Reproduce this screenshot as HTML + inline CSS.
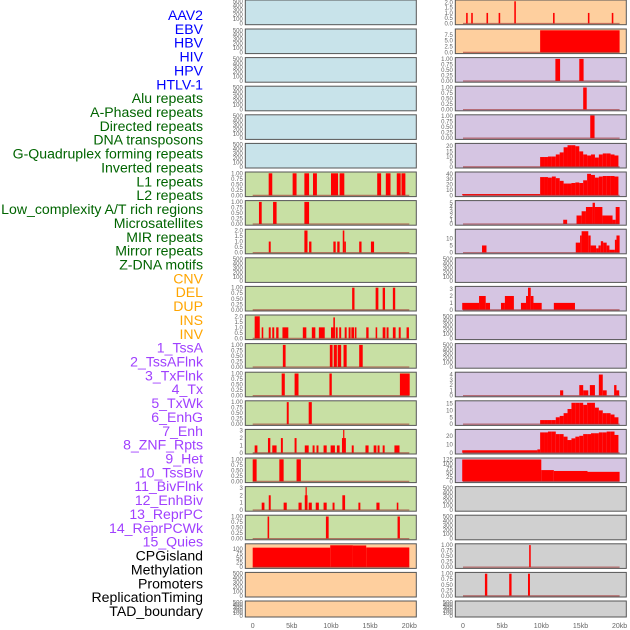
<!DOCTYPE html>
<html><head><meta charset="utf-8"><style>
html,body{margin:0;padding:0;background:#fff;}
svg{display:block;font-family:"Liberation Sans",sans-serif;}
</style></head><body>
<svg id="chart" width="630" height="630" viewBox="0 0 630 630"></svg>
<script>
const labels = ["AAV2","EBV","HBV","HIV","HPV","HTLV-1","Alu repeats","A-Phased repeats","Directed repeats","DNA transposons","G-Quadruplex forming repeats","Inverted repeats","L1 repeats","L2 repeats","Low_complexity A/T rich regions","Microsatellites","MIR repeats","Mirror repeats","Z-DNA motifs","CNV","DEL","DUP","INS","INV","1_TssA","2_TssAFlnk","3_TxFlnk","4_Tx","5_TxWk","6_EnhG","7_Enh","8_ZNF_Rpts","9_Het","10_TssBiv","11_BivFlnk","12_EnhBiv","13_ReprPC","14_ReprPCWk","15_Quies","CPGisland","Methylation","Promoters","ReplicationTiming","TAD_boundary"];
const labelColors = ["#0000ff","#0000ff","#0000ff","#0000ff","#0000ff","#0000ff","#006400","#006400","#006400","#006400","#006400","#006400","#006400","#006400","#006400","#006400","#006400","#006400","#006400","#ffa500","#ffa500","#ffa500","#ffa500","#ffa500","#a040ff","#a040ff","#a040ff","#a040ff","#a040ff","#a040ff","#a040ff","#a040ff","#a040ff","#a040ff","#a040ff","#a040ff","#a040ff","#a040ff","#a040ff","#000","#000","#000","#000","#000"];
const xTicks = [0,5,10,15,20];
const xTickLabels = ["0","5kb","10kb","15kb","20kb"];
const T500=[0,100,200,300,400,500], T1=[0,0.25,0.5,0.75,1], T2=[0,0.5,1,1.5,2], T3=[0,1,2,3];
const leftTicks = [T500,T500,T500,T500,T500,T500,T1,T1,T2,T500,T1,T2,T1,T1,T1,T3,T1,T3,T1,[0,25,50,75,100],T500,T500];
const leftMax = [500,500,500,500,500,500,1,1,2,500,1,2,1,1,1,3,1,3,1,121,500,500];
const leftBg = ["#c8e3ea","#c8e3ea","#c8e3ea","#c8e3ea","#c8e3ea","#c8e3ea","#c8e0a4","#c8e0a4","#c8e0a4","#c8e0a4","#c8e0a4","#c8e0a4","#c8e0a4","#c8e0a4","#c8e0a4","#c8e0a4","#c8e0a4","#c8e0a4","#c8e0a4","#fecf9e","#fecf9e","#fecf9e"];
const leftSegs = [[],[],[],[],[],[],
 [[2.04,2.5,1],[5.1,5.6,1],[6.6,7.2,1],[7.7,8.2,1],[10,10.9,1],[11.1,11.7,1],[15.9,16.4,1],[17,17.6,1],[18.4,18.9,1],[19,19.5,1]],
 [[0.8,1.15,1],[2.6,3.05,1],[6.6,7.2,1]],
 [[2.05,2.3,1],[6.6,7.0,2],[7.2,7.5,1],[10.3,10.6,1],[10.8,11.1,1],[11.5,11.7,2],[11.7,11.9,1],[13.6,13.9,1],[15.1,15.5,1]],
 [],
 [[12.7,13.0,1],[15.7,16.05,1],[16.6,16.9,1],[17.9,18.2,1]],
 [[0.25,0.9,2],[1.15,1.35,1],[2.05,2.3,1],[2.5,2.75,1],[3.0,3.3,1],[3.8,4.55,1],[6.4,6.85,1],[7.55,8.0,1],[8.45,9.2,1],[10.0,10.5,1],[10.3,10.5,1.9],[10.6,10.85,1],[11.05,11.3,1],[11.75,12.0,1],[12.25,12.5,1],[12.6,12.95,1],[13.05,13.25,1],[14.5,14.8,1],[15.7,15.9,1],[16.6,16.95,1],[17.1,17.35,1],[17.9,18.25,1],[18.65,18.9,1],[19.65,19.95,1]],
 [[3.85,4.2,1],[9.85,10.2,1],[10.35,10.75,1],[10.85,11.3,1],[11.6,12.0,1],[13.6,14.05,1]],
 [[3.7,4.1,1],[5.35,5.85,1],[9.8,10.1,1],[18.8,20.05,1]],
 [[4.35,4.6,1],[7.15,7.55,1]],
 [[0.25,0.6,1],[1.95,2.25,2],[2.5,3.05,1],[3.6,3.85,2],[5.35,5.6,2],[6.65,7.15,1],[7.65,7.9,1],[8.15,8.4,1],[9.05,9.45,1],[9.95,10.5,1],[10.75,11.1,1],[11.4,11.9,2],[11.55,11.7,3.1],[12.65,12.9,1],[14.4,14.8,1],[15.45,15.8,1],[15.95,16.2,1],[16.6,16.85,1],[18.1,18.75,1]],
 [[0,0.5,1],[3.4,3.95,1],[5.6,6.15,1]],
 [[1.15,1.5,1],[2.05,2.3,2],[3.95,4.35,1],[5.85,6.25,1],[6.65,7.0,2],[6.75,6.9,3.1],[7.15,7.55,1],[8.05,8.45,1],[9.05,9.45,1],[10.2,10.45,1],[11.45,11.8,2],[13.5,13.75,1],[15.8,16.2,1],[18.4,18.6,1]],
 [[1.9,2.1,1],[9.35,9.7,1],[18.5,18.8,1]],
 [[0,9.9,107],[9.9,12.8,120],[12.8,14.5,119],[14.5,20,108]],
 [],[]];
const rightTicks = [T2,[0,2.5,5,7.5],T1,T1,T1,[0,5,10,15,20],[0,10,20,30,40],[0,1,2,3,4,5],[0,5,10],T500,T3,T500,T500,[0,1,2,3,4],[0,5,10,15],[0,10,20],[0,25,50,75,100,125],T500,T500,T1,T1,T500];
const rightMax = [2.1,9.4,1,1,1,21.5,41,5.2,15.5,500,3.2,500,500,4.2,16,26,127,500,500,1,1,500];
const rightBg = ["#fecf9e","#fecf9e","#d5c5e2","#d5c5e2","#d5c5e2","#d5c5e2","#d5c5e2","#d5c5e2","#d5c5e2","#d5c5e2","#d5c5e2","#d5c5e2","#d5c5e2","#d5c5e2","#d5c5e2","#d5c5e2","#d5c5e2","#d0d0d0","#d0d0d0","#d0d0d0","#d0d0d0","#d0d0d0"];
const r6Vals = [9.5,9.5,10,10,12,14,19,21,21,20,15,12,11,12,9,12,13,13,12,11];
const r7Vals = [34,34,33,35,32,27,22,22,23,24,23,28,40,38,33,35,36,36,36,35];
const r15Vals = [3,3,3,3,5,6,8,11,15.5,15.5,15.5,14,15.5,15.5,12,10,8,8,7,5];
const r16Vals = [24,24,25,25,22,22,19,15,17,19,20,22,22,23,23,24,24,25,25,21];
const rightSegs = [
 [[0.4,0.6,1],[1.05,1.25,1],[3.0,3.2,1],[4.55,4.75,1],[6.55,6.75,2.1],[11.5,11.7,1],[15.95,16.15,1],[19.0,19.2,1]],
 [[9.85,20,9.4]],
 [[11.8,12.4,1],[14.85,15.4,1]],
 [[15.35,15.8,1]],
 [[16.25,16.8,1.03]],
 "r6",
 "r7",
 [[12.8,13.3,1],[14.5,15.15,2],[15.15,15.7,3],[15.7,16.55,4],[16.55,16.85,5],[16.85,17.8,4],[17.8,19.1,2],[19.1,19.5,1],[19.5,20,4]],
 [[2.43,3.0,5],[14.4,14.95,7],[14.95,15.15,12],[15.15,16.0,15],[16.0,16.3,12],[16.3,17.0,5],[17.0,17.3,3],[17.3,17.6,5],[17.6,17.9,8],[17.9,18.35,7],[18.35,18.7,5],[18.7,19.4,2],[19.4,19.6,9],[19.6,20,12]],
 [],
 [[-0.1,2.05,1],[2.05,2.9,2],[2.9,3.45,1],[4.85,5.35,1],[5.35,6.5,2],[7.4,8.05,1],[8.05,8.3,2],[8.3,8.65,3.2],[8.65,9.0,2],[9.0,10.05,1],[11.6,14.3,1]],
 [],[],
 [[12.4,12.8,1],[14.85,15.35,2],[15.35,16.0,1],[16.2,16.85,2],[17.35,17.85,4],[17.85,18.35,1],[19.3,19.6,2],[19.6,19.95,1]],
 "r15",
 "r16",
 [[-0.1,10.0,126],[10.0,11.6,65],[11.6,15.9,60],[15.9,20,55]],
 [],[],
 [[8.45,8.65,1]],
 [[2.8,3.1,1],[5.9,6.2,1],[8.3,8.55,1]],
 []];
const rowBaseLow = {6:[[-0.1,9.85,2.5]], 15:[[-0.1,9.5,3],[9.5,9.85,4]]};

const NS="http://www.w3.org/2000/svg";
const svg=document.getElementById('chart');
function mk(tag,attrs,parent){const e=document.createElementNS(NS,tag);for(const k in attrs)e.setAttribute(k,attrs[k]);(parent||svg).appendChild(e);return e;}

labels.forEach((t,i)=>{
  const e=mk('text',{x:203,y:(15+13.86*i+5).toFixed(1),'text-anchor':'end','font-size':'14.1',fill:labelColors[i]});
  e.textContent=t;
  
  
});

function rowTop(i){return i===0?0:28.6*i+0.4;}
function rowH(i){return i===0?24.7:(i===21?16:24.6);}

function expand(s){
  if(s==="r6") return r6Vals.map((v,k)=>[9.85+0.5*k,10.35+0.5*k,v]);
  if(s==="r7") return r7Vals.map((v,k)=>[9.85+0.5*k,10.35+0.5*k,v]);
  if(s==="r15") return r15Vals.map((v,k)=>[9.85+0.5*k,10.35+0.5*k,v]);
  if(s==="r16") return r16Vals.map((v,k)=>[9.85+0.5*k,10.35+0.5*k,v]);
  return s;
}

function drawPanel(side,i,bg,ticks,ymax,segs){
  const x0 = side==='left'?245.3:455.3, w=171;
  const zx = side==='left'?252.7:463;
  const kx = 7.83;
  const xs = kb=>zx+kb*kx;
  const top=rowTop(i), h=rowH(i), bottom=top+h;
  const y0=bottom-1.2, ys=v=>y0-v/ymax*(h-2.5);
  const g=mk('g',{});
  
  
  mk('rect',{x:x0,y:top,width:w,height:h,fill:bg},g);
  const all = (segs? expand(segs):[]).concat(side==='right'&&rowBaseLow[i]?rowBaseLow[i]:[]);
  all.forEach(s=>{
    const r=mk('rect',{x:xs(s[0]).toFixed(2),width:Math.max(1.2,xs(s[1])-xs(s[0])).toFixed(2),y:Math.max(top,ys(s[2])).toFixed(2),height:(y0-Math.max(top,ys(s[2]))).toFixed(2),fill:'#ff0000'},g);
    
    
  });
  if(!(ymax===500)){
    mk('line',{x1:xs(0),x2:xs(20),y1:y0,y2:y0,stroke:'#a03030','stroke-width':1.3,'stroke-opacity':0.6},g);
  }
  mk('rect',{x:x0,y:top,width:w,height:h,fill:'none',stroke:'#555','stroke-width':1},g);
  ticks.forEach(t=>{
    const ty=ys(t);
    if(ty<-2)return;
    const lab=mk('text',{x:x0-2.5,y:(ty+2).toFixed(1),'text-anchor':'end','font-size':'6',fill:'#666'},g);
    lab.textContent = (ticks===T1)? t.toFixed(2) : ((ticks===T2||ticks===rightTicks[1])? t.toFixed(1): String(t));
    
    
  });
}
for(let i=0;i<22;i++){
  drawPanel('left',i,leftBg[i],leftTicks[i],leftMax[i],leftSegs[i]);
  drawPanel('right',i,rightBg[i],rightTicks[i],rightMax[i],rightSegs[i]);
}
['left','right'].forEach(side=>{
  const zx = side==='left'?252.7:463;
  xTicks.forEach((t,k)=>{
    const e=mk('text',{x:(zx+t*7.83).toFixed(1),y:628,'text-anchor':'middle','font-size':'7',fill:'#666'});
    e.textContent=xTickLabels[k];
    
    
  });
});
</script>
</body></html>
